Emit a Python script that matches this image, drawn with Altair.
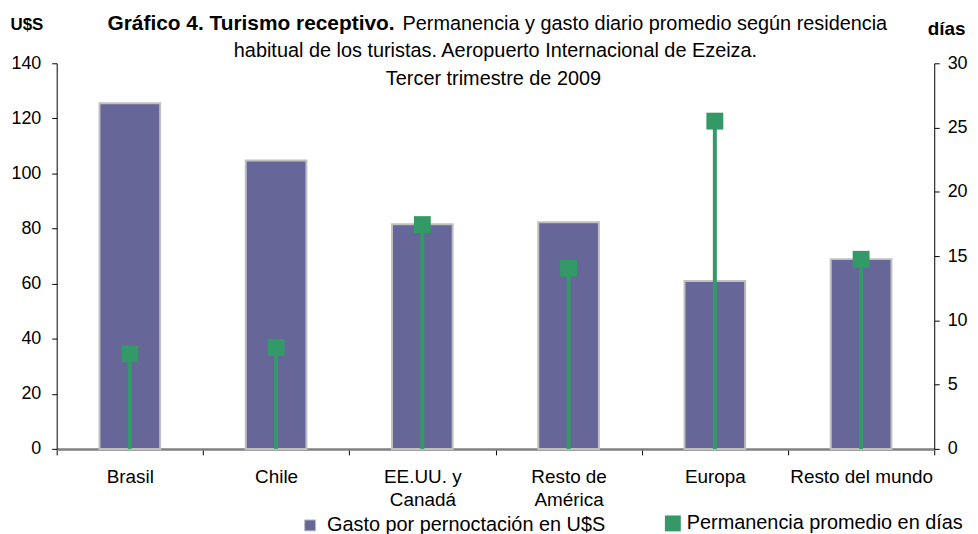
import altair as alt
import pandas as pd

categorias = ["Brasil", "Chile", "EE.UU. y Canadá", "Resto de América", "Europa", "Resto del mundo"]
gasto = [125.5, 104.7, 81.6, 82.3, 61.0, 68.9]
permanencia = [7.4, 7.9, 17.45, 14.05, 25.5, 14.75]
ticks_izq = [0, 20, 40, 60, 80, 100, 120, 140]
ticks_der = [0, 5, 10, 15, 20, 25, 30]
serie_gasto = "Gasto por pernoctación en U$S"
serie_dias = "Permanencia promedio en días"
titulo_negrita = "Gráfico 4. Turismo receptivo."
titulo_l1 = "Permanencia y gasto diario promedio según residencia"
titulo_l2 = "habitual de los turistas. Aeropuerto Internacional de Ezeiza."
titulo_l3 = "Tercer trimestre de 2009"

FONT = "Liberation Sans"

df = pd.DataFrame({
    "cat": categorias,
    "gasto": gasto,
    "dias": permanencia,
    "cero": [0] * len(categorias),
    "s1": [serie_gasto] * len(categorias),
    "s2": [serie_dias] * len(categorias),
})

label_expr = ("datum.label == 'EE.UU. y Canadá' ? ['EE.UU. y', 'Canadá'] : "
              "datum.label == 'Resto de América' ? ['Resto de', 'América'] : datum.label")

x_axis = alt.Axis(labelAngle=0, tickBand="extent", domainColor="#808080", domainWidth=2.5,
                  tickColor="#000000", tickSize=6, tickWidth=1, labelFont=FONT, labelFontSize=19,
                  labelColor="#000000", labelPadding=13, labelLineHeight=23, labelExpr=label_expr,
                  title=None, grid=False)
x = alt.X("cat:N", sort=categorias, scale=alt.Scale(paddingInner=0, paddingOuter=0), axis=x_axis)

left_axis = alt.Axis(orient="left", values=ticks_izq, title="U$S", titleAngle=0, titleX=-47, titleY=-34,
                     titleAlign="left", titleBaseline="alphabetic", titleFont=FONT, titleFontSize=17,
                     titleFontWeight="bold", titleColor="#000000", domainColor="#000000", domainWidth=1,
                     tickColor="#000000", tickSize=5, labelFont=FONT, labelFontSize=18, labelColor="#000000",
                     labelPadding=11, grid=False)
right_axis = alt.Axis(orient="right", values=ticks_der, title="días", titleAngle=0, titleX=-7, titleY=-29,
                      titleAlign="left", titleBaseline="alphabetic", titleFont=FONT, titleFontSize=19,
                      titleFontWeight="bold", titleColor="#000000", domainColor="#000000", domainWidth=1,
                      tickColor="#000000", tickSize=5, labelFont=FONT, labelFontSize=18, labelColor="#000000",
                      labelPadding=8, grid=False)

bars = alt.Chart(df).mark_bar(width=alt.RelativeBandSize(0.415), stroke="#c0c0c0", strokeWidth=2).encode(
    x=x,
    y=alt.Y("gasto:Q", scale=alt.Scale(domain=[0, 140], nice=False), axis=left_axis),
    color=alt.Color("s1:N", scale=alt.Scale(range=["#666699"]),
                    legend=alt.Legend(title=None, orient="none", legendX=245, legendY=455,
                                      symbolType="square", symbolSize=121, symbolStrokeColor="#c0c0c0",
                                      symbolStrokeWidth=1, labelFont=FONT, labelFontSize=20,
                                      labelColor="#000000", labelOffset=7, labelLimit=400)),
)

y_dias = alt.Y("dias:Q", scale=alt.Scale(domain=[0, 30], nice=False), axis=right_axis)

rule = alt.Chart(df).mark_rule(strokeWidth=4).encode(
    x=x, y=y_dias, y2="cero:Q", color=alt.value("#339966"))

pts = alt.Chart(df).mark_point(shape="square", size=289, filled=True, opacity=1).encode(
    x=x, y=y_dias,
    color=alt.Color("s2:N", scale=alt.Scale(range=["#339966"]),
                    legend=alt.Legend(title=None, orient="none", legendX=610, legendY=453,
                                      symbolType="square", symbolSize=256, symbolStrokeWidth=0,
                                      labelFont=FONT, labelFontSize=20, labelColor="#000000",
                                      labelOffset=4, labelLimit=400)),
)


def texto(t, xpos, ypos, align, weight="normal", size=20):
    return alt.Chart(pd.DataFrame({"t": [t]})).mark_text(
        align=align, baseline="alphabetic", font=FONT, fontSize=size, fontWeight=weight, color="#000000"
    ).encode(text="t:N", x=alt.value(xpos), y=alt.value(ypos))


t0 = texto(titulo_negrita, 340, -34, "right", "bold", 21)
t1 = texto(titulo_l1, 348, -34, "left")
t2 = texto(titulo_l2, 441.5, -6, "center")
t3 = texto(titulo_l3, 439.5, 22, "center")

chart = alt.layer(bars, alt.layer(rule, pts), t0, t1, t2, t3).resolve_scale(
    y="independent", color="independent"
).properties(
    width=883, height=388,
    autosize=alt.AutoSizeParams(type="none"),
    padding={"left": 49, "top": 54, "right": 36, "bottom": 84},
    background="#ffffff",
).configure_view(stroke=None)

chart.save("out.html", embed_options={"renderer": "svg", "actions": False})
